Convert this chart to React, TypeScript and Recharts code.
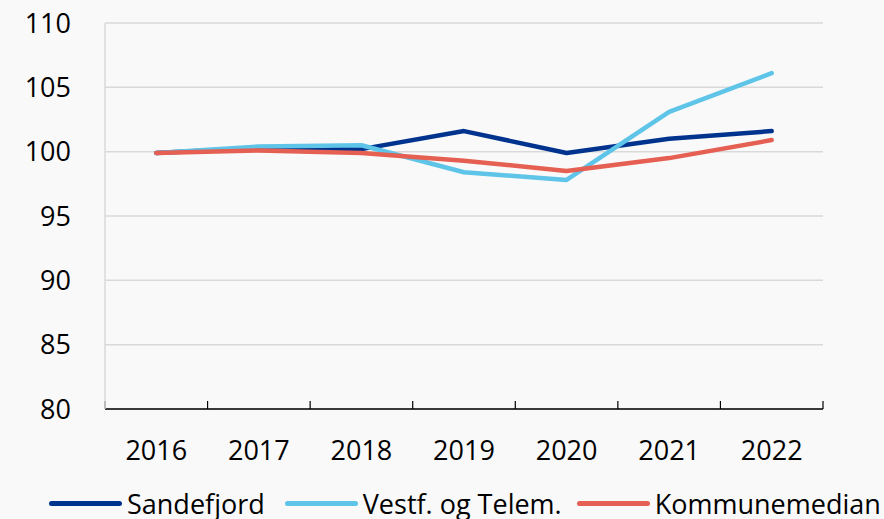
import { LineChart, Line, XAxis, YAxis, CartesianGrid, Legend } from "recharts"

let years = ["2016", "2017", "2018", "2019", "2020", "2021", "2022"]
let sandefjord = [99.9, 100.3, 100.2, 101.6, 99.9, 101.0, 101.6]
let vestfTelem = [99.9, 100.4, 100.5, 98.4, 97.8, 103.1, 106.1]
let kommunemedian = [99.9, 100.1, 99.9, 99.3, 98.5, 99.5, 100.9]
let yTicks = [80, 85, 90, 95, 100, 105, 110]

let series = [
  { key: "sandefjord", name: "Sandefjord", color: "#00338d" },
  { key: "vestf", name: "Vestf. og Telem.", color: "#5ec4e8" },
  { key: "median", name: "Kommunemedian", color: "#e55f53" },
]

let font = "'Open Sans', 'Noto Sans', sans-serif"

let NoLabel = () => <g />

let LegendRow = () => (
  <div style={{ display: "flex", alignItems: "center", height: 32, paddingLeft: 49, fontFamily: font, fontSize: 27, color: "#000", whiteSpace: "nowrap" }}>
    {series.map((s, i) => (
      <div key={s.key} style={{ display: "flex", alignItems: "center", marginRight: i === 0 ? 20 : 15 }}>
        <span style={{ display: "inline-block", width: 73, height: 5, borderRadius: 3, background: s.color, marginRight: 5 }} />
        <span>{s.name}</span>
      </div>
    ))}
  </div>
)

export default function App() {
  let data = years.map((year, i) => ({
    idx: i,
    year,
    sandefjord: sandefjord[i],
    vestf: vestfTelem[i],
    median: kommunemedian[i],
  }))
  // category boundaries: the x axis ticks sit between the years
  let bounds = [...years.map((_, i) => i - 0.5), years.length - 0.5]

  return (
    <div style={{ position: "absolute", left: 0, top: 0, width: 884, height: 519, background: "#f9f9f9", overflow: "hidden" }}>
      <LineChart width={884} height={519} data={data} margin={{ top: 23, right: 61, bottom: 0, left: 0 }}>
        <CartesianGrid horizontal vertical={false} stroke="#d9d9d9" strokeWidth={1.5} />
        <XAxis
          dataKey="idx"
          type="number"
          domain={[-0.5, years.length - 0.5]}
          ticks={bounds}
          tick={<NoLabel />}
          mirror
          tickSize={8}
          height={1}
          interval={0}
          axisLine={{ stroke: "#000", strokeWidth: 1.5 }}
          tickLine={{ stroke: "#000", strokeWidth: 1.2 }}
        />
        <XAxis
          xAxisId="labels"
          dataKey="idx"
          type="number"
          domain={[-0.5, years.length - 0.5]}
          ticks={years.map((_, i) => i)}
          tickFormatter={(v: number) => years[v]}
          axisLine={false}
          tickLine={false}
          tickSize={0}
          tickMargin={32}
          height={78}
          tick={{ fill: "#000", fontSize: 27, fontFamily: font }}
          interval={0}
        />
        <YAxis
          domain={[80, 110]}
          ticks={yTicks}
          width={105}
          axisLine={{ stroke: "#d9d9d9", strokeWidth: 1.5 }}
          tickLine={false}
          tickMargin={28}
          tick={{ fill: "#000", fontSize: 27, fontFamily: font }}
          interval={0}
        />
        <YAxis
          yAxisId="right"
          orientation="right"
          width={0}
          tick={false}
          tickLine={false}
          axisLine={{ stroke: "#d9d9d9", strokeWidth: 1.5 }}
        />
        <Legend content={<LegendRow />} verticalAlign="bottom" wrapperStyle={{ height: 32 }} />
        {series.map((s) => (
          <Line
            key={s.key}
            type="linear"
            dataKey={s.key}
            name={s.name}
            stroke={s.color}
            strokeWidth={4.5}
            strokeLinecap="round"
            strokeLinejoin="round"
            dot={false}
            isAnimationActive={false}
          />
        ))}
      </LineChart>
    </div>
  )
}
